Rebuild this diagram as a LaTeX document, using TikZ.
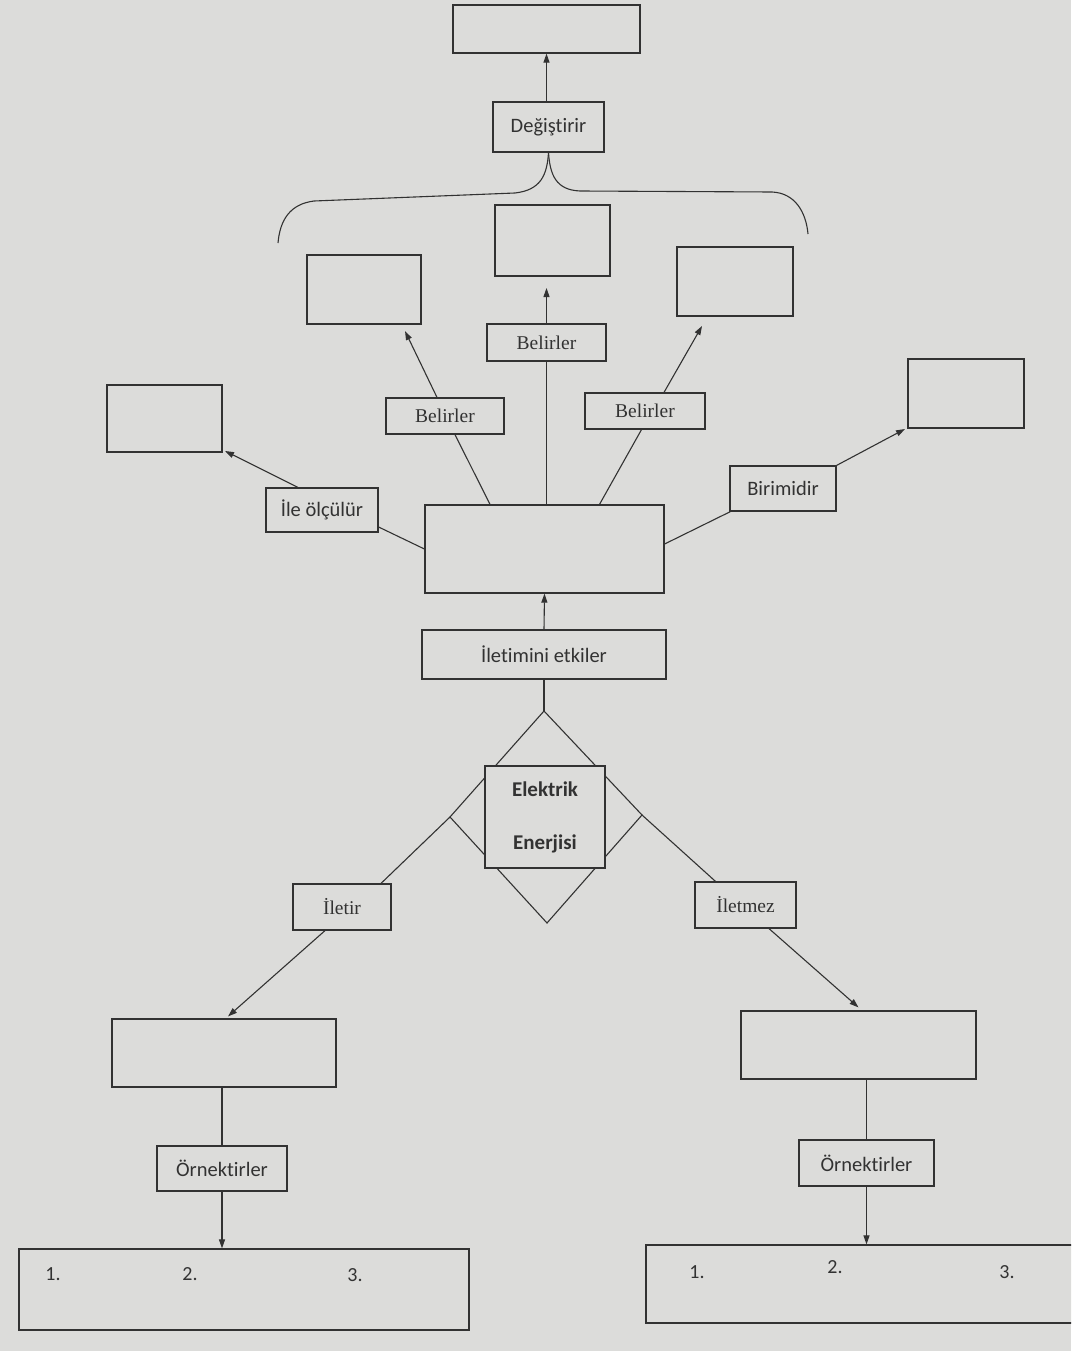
\documentclass[tikz,border=0pt]{standalone}
\usepackage{fontspec}
\setmainfont{Liberation Serif}
\newfontfamily\lblsans[RawFeature=-liga]{Carlito}
\usetikzlibrary{arrows.meta,calc}
\definecolor{paper}{RGB}{220,220,218}
\definecolor{ink}{RGB}{50,50,50}

\begin{document}
\begin{tikzpicture}[x=1pt,y=-1pt,
  box/.style={draw=ink,line width=1.2pt,inner sep=0pt,fill=paper},
  sanslbl/.style={box,font=\lblsans\fontsize{20.5}{24}\selectfont,text=ink},
  seriflbl/.style={box,font=\fontsize{19.5}{23}\selectfont,text=ink},
  numlbl/.style={font=\lblsans\fontsize{20}{24}\selectfont,text=ink,inner sep=0pt},
  link/.style={draw=ink,line width=1.1pt},
  arr/.style={link,-{Triangle[length=9pt,width=6pt]}},
]
\useasboundingbox (0,0) rectangle (1071,1351);
\fill[paper] (0,0) rectangle (1071,1351);
\clip (0,0) rectangle (1071,1351);

% ---- empty answer boxes ----
\node[box,minimum width=187,minimum height=48] (top)    at (546.5,29)  {};
\node[box,minimum width=115,minimum height=71] (mid)    at (552.5,240.5) {};
\node[box,minimum width=114,minimum height=69] (ltop)   at (364,289.5) {};
\node[box,minimum width=116,minimum height=69] (rtop)   at (735,281.5) {};
\node[box,minimum width=115,minimum height=67] (fleft)  at (164.5,418.5) {};
\node[box,minimum width=116,minimum height=69] (fright) at (966,393.5) {};
\node[box,minimum width=239,minimum height=88] (cen)    at (544.5,549) {};
\node[box,minimum width=224,minimum height=68] (lowL)   at (224,1053) {};
\node[box,minimum width=235,minimum height=68] (lowR)   at (858.5,1045) {};
\node[box,minimum width=450,minimum height=81] (botL)   at (244,1289.5) {};
\node[box,minimum width=434,minimum height=78] (botR)   at (863,1284) {};

% ---- linking words ----
\node[sanslbl,minimum width=111,minimum height=50] (degis) at (548.5,127) {Değiştirir};
\node[seriflbl,minimum width=119,minimum height=37] (belC) at (546.5,342.5) {Belirler};
\node[seriflbl,minimum width=118,minimum height=36] (belL) at (445,416) {Belirler};
\node[seriflbl,minimum width=120,minimum height=36] (belR) at (645,411) {Belirler};
\node[sanslbl,minimum width=112,minimum height=44] (ile)  at (322,510) {İle ölçülür};
\node[sanslbl,minimum width=106,minimum height=45] (bir)  at (783,488.5) {Birimidir};
\node[sanslbl,minimum width=244,minimum height=49] (ilet) at (544,654.5) {İletimini etkiler};
\node[seriflbl,minimum width=98,minimum height=46]  (iletir)  at (342,907) {İletir};
\node[seriflbl,minimum width=101,minimum height=46] (iletmez) at (745.5,905) {İletmez};
\node[sanslbl,minimum width=130,minimum height=45] (ornL) at (222,1168.5) {Örnektirler};
\node[sanslbl,minimum width=135,minimum height=46] (ornR) at (866.5,1163) {Örnektirler};

% ---- numbered slots ----
\node[numlbl] (n1L) at (53,1274) {1.};
\node[numlbl] (n2L) at (190,1274) {2.};
\node[numlbl] (n3L) at (355,1275) {3.};
\node[numlbl] (n1R) at (697,1272) {1.};
\node[numlbl] (n2R) at (835,1267) {2.};
\node[numlbl] (n3R) at (1007,1272) {3.};

% ---- arrow tips that stop short of their boxes ----
\coordinate (tC)  at (546.5,288);
\coordinate (tL)  at (405,331);
\coordinate (tR)  at (702,326);
\coordinate (tFL) at (225,451);
\coordinate (tFR) at (905,429);

% ---- central diamond with the concept square ----
\coordinate (dT) at (544,711);
\coordinate (dL) at (450,817);
\coordinate (dR) at (642,815);
\coordinate (dB) at (547,923);
\draw[link] (dT) -- (dR) -- (dB) -- (dL) -- cycle;
\node[box,minimum width=120,minimum height=102,align=center,
      font=\lblsans\bfseries\fontsize{21}{53}\selectfont,text=ink] (sq) at (545,817)
      {Elektrik\\Enerjisi};

% ---- brace below "Değiştirir" ----
\draw[link] (degis.south) .. controls (547,175) and (541,190) .. (515,193)
  -- (314,201) .. controls (290,204) and (280,220) .. (278,243);
\draw[link] (degis.south) .. controls (550,175) and (556,190) .. (580,191)
  -- (772,192) .. controls (795,193) and (806,212) .. (808,234);

% ---- connectors ----
\draw[arr] (degis.north -| top.south) -- (top.south);

\draw[link] (cen.north -| belC.south) -- (belC.south);
\draw[arr]  (belC.north) -- (tC);

\draw[link] ($(cen.north)+(-54.5,0)$) -- ($(belL.south)+(10,0)$);
\draw[arr]  ($(belL.north)+(-8,0)$) -- (tL);

\draw[link] ($(cen.north)+(55,0)$) -- ($(belR.south)+(-3.5,0)$);
\draw[arr]  ($(belR.north)+(19,0)$) -- (tR);

\draw[link] (cen.west) -- ($(ile.east)+(0,17)$);
\draw[arr]  ($(ile.north)+(-24,0)$) -- (tFL);

\draw[link] ($(cen.east)+(0,-5)$) -- ($(bir.south west)+(1,0)$);
\draw[arr]  (bir.north east) -- (tFR);

\draw[arr]  (ilet.north) -- (cen.south);
\draw[link] (ilet.south) -- (dT);

\draw[link] (dL) -- ($(iletir.north)+(39,0)$);
\draw[arr]  ($(iletir.south)+(-17,0)$) -- ($(lowL.north)+(4,-2)$);

\draw[link] (dR) -- ($(iletmez.north)+(-30,0)$);
\draw[arr]  ($(iletmez.south)+(23.5,0)$) -- ($(lowR.north)+(0,-3)$);

\draw[link] (lowL.south -| ornL.north) -- (ornL.north);
\draw[arr]  (ornL.south) -- (ornL.south |- botL.north);

\draw[link] (lowR.south -| ornR.north) -- (ornR.north);
\draw[arr]  (ornR.south) -- (ornR.south |- botR.north);
\end{tikzpicture}
\end{document}
